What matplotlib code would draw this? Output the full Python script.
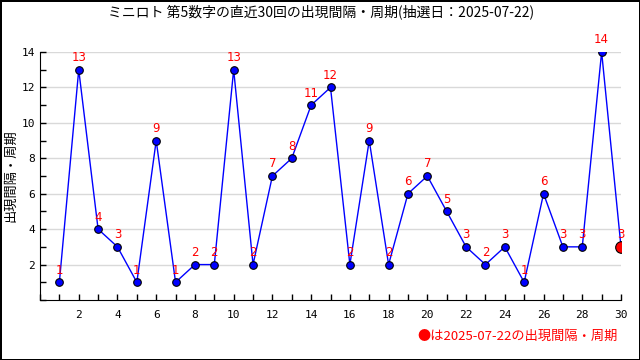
import matplotlib
matplotlib.use("Agg")
import matplotlib.pyplot as plt
from matplotlib.ticker import MultipleLocator

plt.rcParams['font.family'] = ['Noto Sans CJK JP', 'DejaVu Sans']

draws = list(range(1, 31))
values = [1, 13, 4, 3, 1, 9, 1, 2, 2, 13, 2, 7, 8, 11, 12, 2, 9, 2, 6, 7, 5, 3, 2, 3, 1, 6, 3, 3, 14, 3]
title = "ミニロト 第5数字の直近30回の出現間隔・周期(抽選日：2025-07-22)"
ylabel = "出現間隔・周期"
note = "●は2025-07-22の出現間隔・周期"

fig = plt.figure(figsize=(6.4, 3.6), dpi=100)
fig.patch.set_facecolor('white')
fig.patch.set_edgecolor('black')
fig.patch.set_linewidth(2)
ax = fig.add_axes([40/640, 1-300/360, 581/640, 248/360])

for y in range(2, 15, 2):
    ax.axhline(y, color='#d9d9d9', lw=1, zorder=0)

ax.plot(draws, values, color='blue', lw=1, zorder=2)
ax.scatter(draws[:-1], values[:-1], s=30, color='blue', edgecolors='black', linewidths=0.8, zorder=3)
ax.scatter(draws[-1:], values[-1:], s=70, color='red', edgecolors='black', linewidths=0.8, zorder=4)
for x, v in zip(draws, values):
    ax.annotate(str(v), (x, v), xytext=(0, 4), textcoords='offset points', ha='center', va='bottom',
                color='red', fontsize=8.5, family='DejaVu Sans', clip_on=False)

ax.set_xlim(0, 30)
ax.set_ylim(0, 14)
ax.set_xticks(range(2, 31, 2))
ax.xaxis.set_minor_locator(MultipleLocator(1))
ax.set_yticks(range(2, 15, 2))
ax.yaxis.set_minor_locator(MultipleLocator(1))
ax.tick_params(which='both', direction='in', length=4, width=1, labelsize=8)
ax.tick_params(axis='x', pad=7)
for s in ['top', 'right']:
    ax.spines[s].set_visible(False)
for lab in ax.get_xticklabels() + ax.get_yticklabels():
    lab.set_family('DejaVu Sans Mono')

fig.text(321/640, 1-12/360, title, ha='center', va='center', fontsize=10)
fig.text(11/640, 1-176/360, ylabel, rotation=90, ha='center', va='center', fontsize=9.5)
fig.text(618/640, 1-336/360, note, ha='right', va='center', fontsize=9.5, color='red')

fig.savefig('out.png', dpi=100, facecolor='white', edgecolor=fig.get_edgecolor())
